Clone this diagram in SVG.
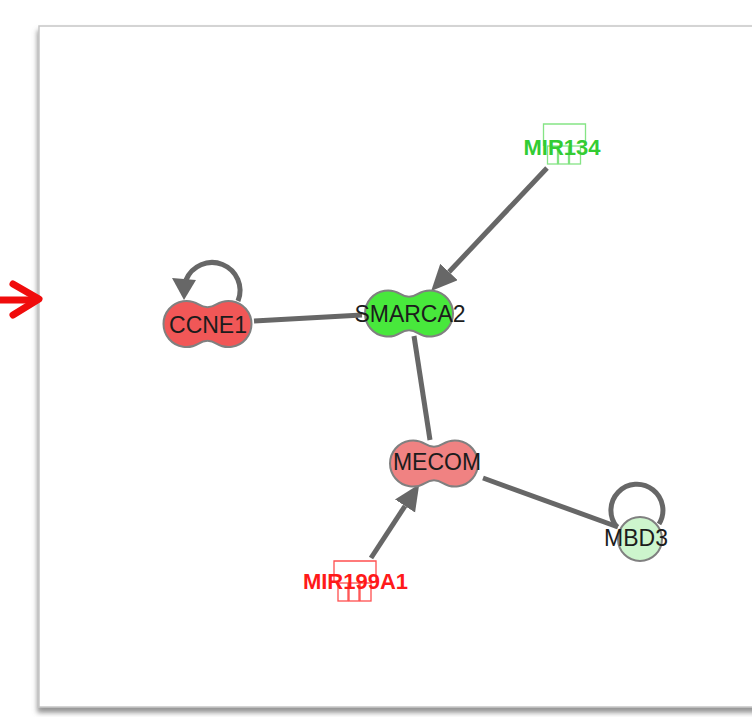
<svg xmlns="http://www.w3.org/2000/svg" width="752" height="717" viewBox="0 0 752 717">
  <defs>
    <filter id="panelShadow" x="-5%" y="-5%" width="110%" height="110%">
      <feDropShadow dx="-1" dy="5" stdDeviation="2.5" flood-color="#7a7a7a" flood-opacity="0.8"/>
    </filter>
    <marker id="arrow" markerUnits="userSpaceOnUse" markerWidth="30" markerHeight="26" refX="0" refY="12" orient="auto">
      <path d="M0,0 L26,12 L0,24 Z" fill="#676767"/>
    </marker>
    <!-- two-lobed "peanut" node outline centred on 0,0 -->
    <path id="lobes" d="M-8.85,-19.53 A23,23 0 1 0 -8.85,19.53 A16.75,16.75 0 0 1 8.85,19.53 A23,23 0 1 0 8.85,-19.53 A16.75,16.75 0 0 1 -8.85,-19.53 Z"/>
    <!-- microRNA glyph: open frame with three hanging strands -->
    <g id="mirna">
      <path d="M-21,22 V0 H21 V22" fill="none"/>
      <rect x="-17" y="22" width="10" height="18" fill="none"/>
      <rect x="-6" y="22" width="10" height="18" fill="none"/>
      <rect x="5" y="22" width="11" height="18" fill="none"/>
    </g>
  </defs>
  <style>
    .edge { fill: none; stroke: #676767; stroke-width: 5; }
    .node { stroke: #808080; stroke-width: 2; }
    .label { font-family: "Liberation Sans", Arial, sans-serif; font-size: 23px; fill: #1c1c1c; text-anchor: middle; }
    .mir { font-family: "Liberation Sans", Arial, sans-serif; font-size: 22px; font-weight: bold; text-anchor: middle; }
  </style>

  <rect width="752" height="717" fill="#ffffff"/>

  <!-- canvas panel -->
  <rect x="39" y="26" width="730" height="681" fill="#ffffff" stroke="#c6c6c6" stroke-width="1.5" filter="url(#panelShadow)"/>

  <!-- red pointer at the left margin -->
  <g id="pointer" fill="none" stroke="#f00c0c" stroke-width="7" stroke-linecap="round" stroke-linejoin="round">
    <path d="M-2,300 H36"/>
    <path d="M13,284 L39,299 L13,315"/>
  </g>

  <g id="connectors">
    <path class="edge" d="M254,321 L362,315"/>
    <path class="edge" d="M547,168 L449,272" marker-end="url(#arrow)"/>
    <path class="edge" d="M414,336 L430,440"/>
    <path class="edge" d="M371,558 L405,506" marker-end="url(#arrow)"/>
    <path class="edge" d="M483,478 L618,527"/>
    <!-- CCNE1 self-loop -->
    <path class="edge" d="M238,301 A24,24 0 1 0 186,280"/>
    <path d="M172,278 L184,300 L196,280 Z" fill="#676767"/>
    <!-- MBD3 self-loop -->
    <path class="edge" d="M617,527 A26,26 0 1 1 659,524"/>
  </g>

  <g id="CCNE1">
    <use href="#lobes" class="node" fill="#f15757" transform="translate(207.5,324)"/>
    <text class="label" x="208" y="333">CCNE1</text>
  </g>

  <g id="SMARCA2">
    <use href="#lobes" class="node" fill="#48e83c" transform="translate(409,313.5)"/>
    <text class="label" x="410" y="322">SMARCA2</text>
  </g>

  <g id="MECOM">
    <use href="#lobes" class="node" fill="#f08282" transform="translate(434,463.5)"/>
    <text class="label" x="437" y="470">MECOM</text>
  </g>

  <g id="MBD3">
    <circle class="node" cx="640" cy="539" r="22" fill="#cdf5cd"/>
    <text class="label" x="636" y="546">MBD3</text>
  </g>

  <g id="MIR134">
    <use href="#mirna" stroke="#66dd66" stroke-width="1.3" stroke-opacity="0.8" transform="translate(564.5,124)"/>
    <text class="mir" x="562" y="155" fill="#33cc33">MIR134</text>
  </g>

  <g id="MIR199A1">
    <use href="#mirna" stroke="#ff3030" stroke-width="1.3" stroke-opacity="0.85" transform="translate(355,561)"/>
    <text class="mir" x="355.5" y="589" fill="#ff1a1a">MIR199A1</text>
  </g>
</svg>
